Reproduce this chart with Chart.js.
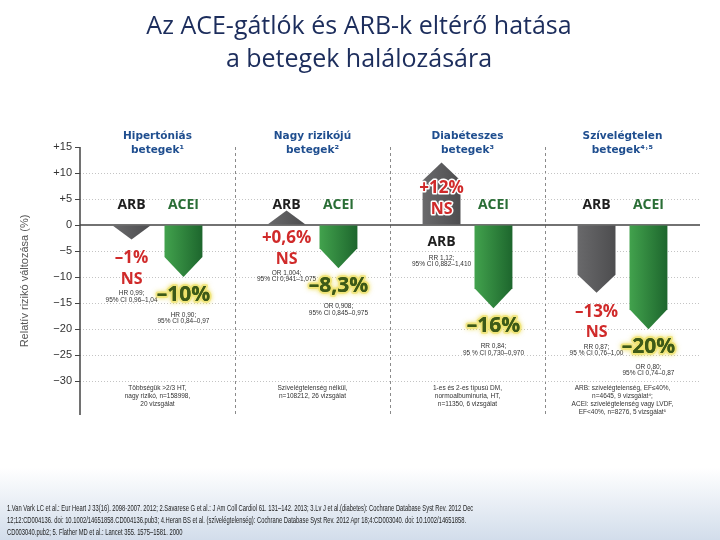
<!DOCTYPE html>
<html>
<head>
<meta charset="utf-8">
<script src="https://cdn.jsdelivr.net/npm/chart.js@4"></script>
<style>
  html, body { margin: 0; padding: 0; }
  body {
    width: 720px; height: 540px; overflow: hidden; position: relative;
    background: linear-gradient(to bottom, #ffffff 0px, #ffffff 468px, #d2ddeb 540px);
  }
  #wrap { position: absolute; left: 0; top: 0; width: 720px; height: 540px; }
  #refs {
    position: absolute; left: 7px; top: 502px;
    font: 9px "Liberation Sans Narrow", "Liberation Sans", sans-serif; line-height: 12px;
    color: #222; white-space: nowrap; transform-origin: 0 0;
  }
  #refs span { display: inline-block; }
</style>
</head>
<body>
<div id="wrap"><canvas id="chart" width="720" height="540"></canvas></div>
<div id="refs">
  <span id="refLine1">1.Van Vark LC et al.: Eur Heart J 33(16). 2098-2007. 2012; 2.Savarese G et al.: J Am Coll Cardiol 61. 131–142. 2013; 3.Lv J et al.(diabetes): Cochrane Database Syst Rev. 2012 Dec</span><br>
  <span>12;12:CD004136. doi: 10.1002/14651858.CD004136.pub3; 4.Heran BS et al. (szívelégtelenség): Cochrane Database Syst Rev. 2012 Apr 18;4:CD003040. doi: 10.1002/14651858.</span><br>
  <span>CD003040.pub2; 5. Flather MD et al.: Lancet 355. 1575–1581. 2000</span>
</div>
<script>
// Patient groups (header lines)
const groupTitles = [
  ["Hipertóniás", "betegek¹"],
  ["Nagy rizikójú", "betegek²"],
  ["Diabéteszes", "betegek³"],
  ["Szívelégtelen", "betegek⁴˒⁵"]
];
// Relative risk change (%)
const arbValues = [-1, 0.6, 12, -13];
const aceiValues = [-10, -8.3, -16, -20];
const arbStats = [
  ["HR 0,99;", "95% CI 0,96–1,04"],
  ["OR 1,004;", "95% CI 0,941–1,075"],
  ["RR 1,12;", "95% CI 0,882–1,410"],
  ["RR 0,87;", "95 % CI 0,76–1,00"]
];
const aceiStats = [
  ["HR 0,90;", "95% CI 0,84–0,97"],
  ["OR 0,908;", "95% CI 0,845–0,975"],
  ["RR 0,84;", "95 % CI 0,730–0,970"],
  ["OR 0,80;", "95% CI 0,74–0,87"]
];
const arbSignificance = ["NS", "NS", "NS", "NS"];
const populations = [
  ["Többségük >2/3 HT,", "nagy rizikó, n=158998,", "20 vizsgálat"],
  ["Szívelégtelenség nélkül,", "n=108212, 26 vizsgálat"],
  ["1-es és 2-es típusú DM,", "normoalbuminuria, HT,", "n=11350, 6 vizsgálat"],
  ["ARB: szívelégtelenség, EF≤40%,", "n=4645, 9 vizsgálat⁴;", "ACEI: szívelégtelenség vagy LVDF,", "EF<40%, n=8276, 5 vizsgálat⁵"]
];
const yTicks = [15, 10, 5, 0, -5, -10, -15, -20, -25, -30];

// squeeze the reference lines to the narrow width of the slide footer
const refs = document.getElementById("refs");
const line1 = document.getElementById("refLine1");
refs.style.transform = "scaleX(" + (466 / line1.offsetWidth) + ")";

function fmtTick(v) {
  if (v > 0) return "+" + v;
  if (v < 0) return "−" + Math.abs(v);
  return "0";
}
function fmtPct(v) {
  return (v > 0 ? "+" : "–") + String(Math.abs(v)).replace(".", ",") + "%";
}

function text(ctx, str, x, y, font, color, halo, haloWidth) {
  ctx.font = font;
  ctx.textAlign = "center";
  ctx.textBaseline = "middle";
  if (halo) {
    ctx.lineJoin = "round";
    ctx.strokeStyle = halo;
    ctx.lineWidth = haloWidth || 3;
    ctx.strokeText(str, x, y);
  }
  ctx.fillStyle = color;
  ctx.fillText(str, x, y);
}

// Draws the arrow-shaped bars and all the annotations
const arrowPlugin = {
  id: "arrows",
  afterDatasetsDraw(chart) {
    const { ctx, chartArea, scales: { x, y } } = chart;
    const zero = y.getPixelForValue(0);

    ctx.save();
    // y axis line and zero line
    ctx.strokeStyle = "#444";
    ctx.lineWidth = 1.5;
    ctx.beginPath();
    ctx.moveTo(chartArea.left, chartArea.top);
    ctx.lineTo(chartArea.left, chartArea.bottom);
    ctx.moveTo(chartArea.left, zero);
    ctx.lineTo(chartArea.right, zero);
    ctx.stroke();

    chart.data.datasets.forEach((ds, di) => {
      const meta = chart.getDatasetMeta(di);
      const isArb = ds.label === "ARB";
      meta.data.forEach((bar, i) => {
        const v = ds.data[i];
        const up = v > 0;
        const dir = up ? -1 : 1;
        const w = bar.width;
        const base = bar.base;
        let tip = bar.y;
        const minLen = 14;
        if (Math.abs(tip - base) < minLen) tip = base + dir * minLen;
        const head = Math.min(isArb ? 18 : 20, Math.abs(tip - base));

        const g = ctx.createLinearGradient(bar.x - w / 2, 0, bar.x + w / 2, 0);
        if (isArb) { g.addColorStop(0, "#69696b"); g.addColorStop(1, "#4d4d4f"); }
        else { g.addColorStop(0, "#42a24d"); g.addColorStop(1, "#1d662d"); }
        ctx.fillStyle = g;
        ctx.beginPath();
        ctx.moveTo(bar.x - w / 2, base);
        ctx.lineTo(bar.x - w / 2, tip - dir * head);
        ctx.lineTo(bar.x, tip);
        ctx.lineTo(bar.x + w / 2, tip - dir * head);
        ctx.lineTo(bar.x + w / 2, base);
        ctx.closePath();
        ctx.fill();

        const statFont = "6.5px 'Liberation Sans'";
        if (isArb) {
          const big = up && Math.abs(bar.y - base) > 30;
          let pctY, nameY;
          if (big) {
            pctY = tip + 26;
            nameY = zero + 17;
          } else if (up) {
            pctY = zero + 13;
            nameY = zero - 20;
          } else {
            pctY = tip + 19;
            nameY = zero - 20;
          }
          const halo = big ? "#ffffff" : null;
          text(ctx, "ARB", bar.x, nameY, "bold 14px 'Open Sans'", "#1e1e1e");
          text(ctx, fmtPct(v), bar.x, pctY, "bold 17px 'Open Sans'", "#d02a2a", halo, 3);
          text(ctx, arbSignificance[i], bar.x, pctY + 21, "bold 16px 'Open Sans'", "#d02a2a", halo, 3);
          const statY = big ? zero + 33 : pctY + 35;
          arbStats[i].forEach((s, k) => text(ctx, s, bar.x, statY + k * 6.5, statFont, "#333"));
        } else {
          text(ctx, "ACEI", bar.x, zero - 20, "bold 14px 'Open Sans'", "#2a6e36");
          const pctY = tip + 18;
          ctx.save();
          ctx.shadowColor = "rgba(235,220,80,0.9)";
          ctx.shadowBlur = 5;
          text(ctx, fmtPct(v), bar.x, pctY, "bold 21px 'Open Sans'", "#3d5a18", "rgba(240,228,120,0.75)", 4);
          ctx.restore();
          text(ctx, fmtPct(v), bar.x, pctY, "bold 21px 'Open Sans'", "#3d5a18");
          aceiStats[i].forEach((s, k) => text(ctx, s, bar.x, pctY + 20 + k * 6.5, statFont, "#333"));
        }
      });
    });

    // group headers and population notes
    groupTitles.forEach((lines, i) => {
      const cx = x.getPixelForValue(i);
      lines.forEach((s, k) => text(ctx, s, cx, chartArea.top - 11 + k * 14, "bold 10.5px 'DejaVu Sans'", "#1f4e8f"));
      const y0 = y.getPixelForValue(-30) + 7;
      populations[i].forEach((s, k) => text(ctx, s, cx, y0 + k * 8, "6.5px 'Liberation Sans'", "#333"));
    });
    ctx.restore();
  }
};

new Chart(document.getElementById("chart"), {
  type: "bar",
  data: {
    labels: groupTitles.map(g => g.join(" ")),
    datasets: [
      { label: "ARB", data: arbValues, backgroundColor: "rgba(0,0,0,0)" },
      { label: "ACEI", data: aceiValues, backgroundColor: "rgba(0,0,0,0)" }
    ]
  },
  options: {
    responsive: false,
    animation: false,
    datasets: { bar: { categoryPercentage: 0.67, barPercentage: 0.73 } },
    layout: { padding: { left: 18, right: 20, top: 0, bottom: 125 } },
    plugins: {
      legend: { display: false },
      tooltip: { enabled: false },
      title: {
        display: true,
        text: ["Az ACE-gátlók és ARB-k eltérő hatása", "a betegek halálozására"],
        color: "#1c2d5c",
        font: { family: "Open Sans", size: 25, weight: "normal", lineHeight: 1.32 },
        padding: { top: 10, bottom: 71 }
      }
    },
    scales: {
      x: {
        ticks: { display: false },
        grid: {
          offset: true,
          drawTicks: false,
          color: c => (c.index > 0 && c.index < groupTitles.length) ? "#8a8a8a" : "rgba(0,0,0,0)"
        },
        border: { display: false, dash: [3, 3] }
      },
      y: {
        min: -36.5,
        max: 15,
        afterBuildTicks: s => { s.ticks = yTicks.map(v => ({ value: v })); },
        afterFit: s => { s.width = 62; },
        ticks: {
          callback: v => fmtTick(v),
          color: "#333",
          font: { family: "Liberation Sans", size: 11 },
          padding: 3,
          autoSkip: false
        },
        grid: {
          color: c => (c.tick && (c.tick.value === 0 || c.tick.value === 15)) ? "rgba(0,0,0,0)" : "#c4c4c4",
          tickColor: "#444",
          tickLength: 5
        },
        border: { display: false, dash: [1, 2] },
        title: {
          display: true,
          text: "Relatív rizikó változása (%)",
          color: "#555",
          font: { family: "Liberation Sans", size: 11 },
          padding: { top: 0, bottom: 6 }
        }
      }
    }
  },
  plugins: [arrowPlugin]
});
</script>
</body>
</html>
